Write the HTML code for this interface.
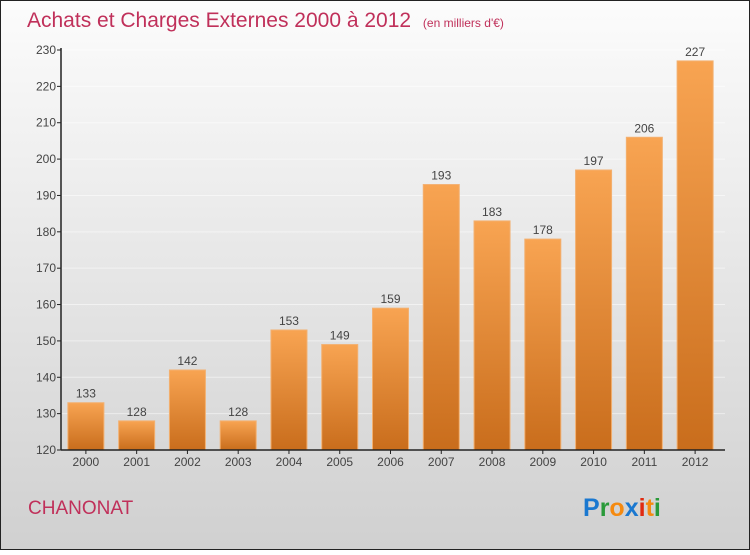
<!DOCTYPE html>
<html><head><meta charset="utf-8"><style>
body{margin:0;}
svg text{font-family:"Liberation Sans",sans-serif;}
</style></head><body>
<svg width="750" height="550" xmlns="http://www.w3.org/2000/svg">
<defs>
<linearGradient id="bg" x1="0" y1="0" x2="0" y2="1"><stop offset="0" stop-color="#fcfcfc"/><stop offset="1" stop-color="#d0d0d0"/></linearGradient>
<linearGradient id="bar" x1="0" y1="0" x2="0" y2="1"><stop offset="0" stop-color="#f8a452"/><stop offset="1" stop-color="#c96d1c"/></linearGradient>
</defs>
<rect x="0.5" y="0.5" width="749" height="549" fill="url(#bg)" stroke="#222"/>
<text x="27" y="27" font-size="21" fill="#c0305a">Achats et Charges Externes 2000 à 2012 <tspan font-size="12" dx="6">(en milliers d'€)</tspan></text>
<g id="grid"></g><g id="bars"></g><g id="axes"></g>
<text x="28" y="514" font-size="19" fill="#c0305a">CHANONAT</text>
<text x="583" y="516" font-size="25" font-weight="bold"><tspan fill="#1a78d0">P</tspan><tspan fill="#2a9a3a">r</tspan><tspan fill="#f58a10">o</tspan><tspan fill="#1a78d0">x</tspan><tspan fill="#e02a10">i</tspan><tspan fill="#f58a10">t</tspan><tspan fill="#2a9a3a">i</tspan></text>
</svg>
<script>
const categories=["2000","2001","2002","2003","2004","2005","2006","2007","2008","2009","2010","2011","2012"];
const values=[133,128,142,128,153,149,159,193,183,178,197,206,227];
const yTicks=[120,130,140,150,160,170,180,190,200,210,220,230];
const NS="http://www.w3.org/2000/svg";
const x0=61,x1=721,yTop=50,yBot=450,vMin=120,vMax=230;
const y=v=>yBot-(v-vMin)/(vMax-vMin)*(yBot-yTop);
const step=(x1-x0)/categories.length;
const xc=i=>x0+step*(i+0.5)-0.5;
function mk(tag,attrs,parent,txt){const e=document.createElementNS(NS,tag);for(const k in attrs)e.setAttribute(k,attrs[k]);if(txt!==undefined)e.textContent=txt;document.getElementById(parent).appendChild(e);return e;}
yTicks.forEach(t=>{
 const g=mk('line',{x1:x0,x2:725,y1:y(t),y2:y(t),stroke:'#ffffff','stroke-opacity':0.5},'grid');
 
 
 const tk=mk('line',{x1:x0-4,x2:x0,y1:y(t),y2:y(t),stroke:'#222'},'axes');
 
 
 const l=mk('text',{x:x0-5,y:y(t)+4,'font-size':12,fill:'#444','text-anchor':'end'},'axes',t);
 
 
});
categories.forEach((c,i)=>{
 const w=36;
 const r=mk('rect',{x:xc(i)-w/2,y:y(values[i]),width:w,height:yBot-y(values[i]),fill:'url(#bar)',stroke:'#f3b070','stroke-width':1},'bars');
 
 
 const v=mk('text',{x:xc(i),y:y(values[i])-5,'font-size':12,fill:'#444','text-anchor':'middle'},'bars',values[i]);
 
 
 const tk=mk('line',{x1:xc(i),x2:xc(i),y1:yBot,y2:yBot+4,stroke:'#222'},'axes');
 
 
 const l=mk('text',{x:xc(i),y:yBot+16,'font-size':12,fill:'#444','text-anchor':'middle'},'axes',c);
 
 
});
const ya=mk('line',{x1:x0,x2:x0,y1:yTop-2,y2:yBot,stroke:'#222','stroke-width':1.5},'axes');


const xa=mk('line',{x1:x0,x2:725,y1:yBot,y2:yBot,stroke:'#222','stroke-width':1.5},'axes');


</script>
</body></html>
